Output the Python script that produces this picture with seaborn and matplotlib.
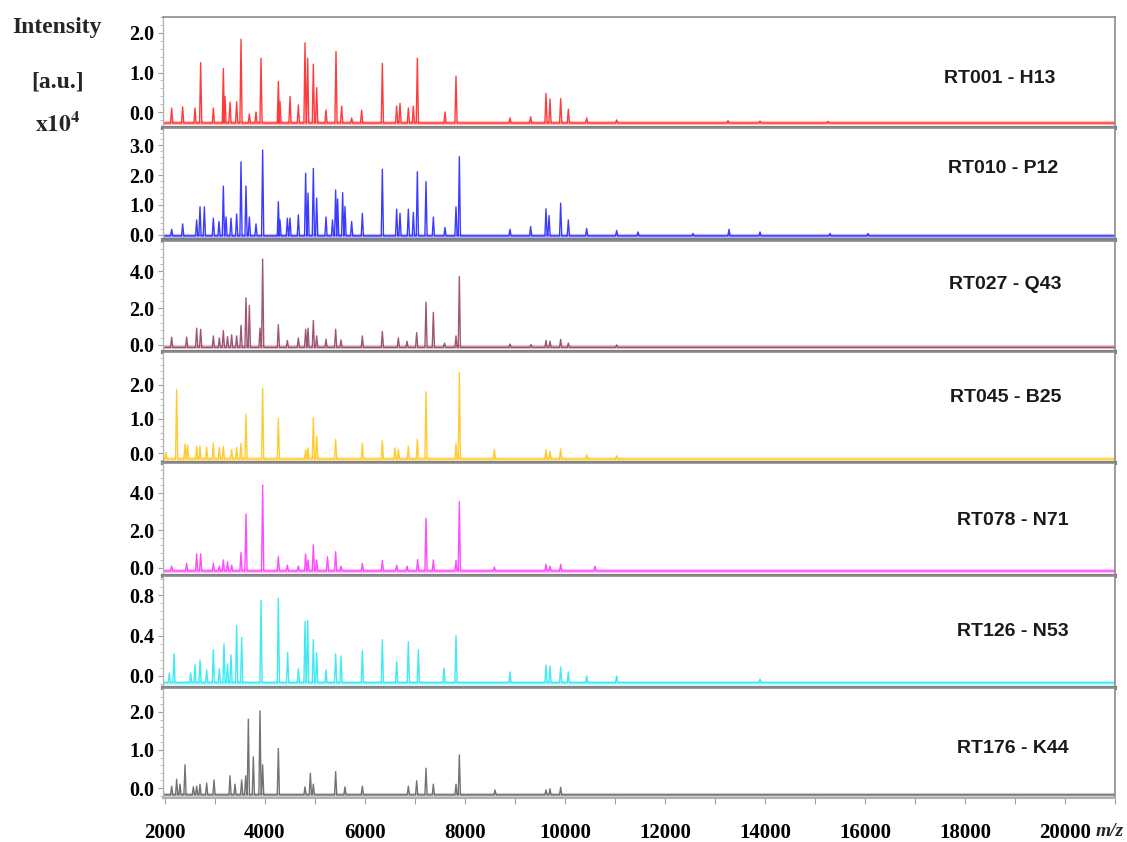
import numpy as np
import pandas as pd
import matplotlib
matplotlib.use("Agg")
import matplotlib.pyplot as plt
import seaborn as sns
from matplotlib.ticker import MultipleLocator, AutoMinorLocator

# ---------------- data (intensity in x10^4 a.u., m/z in Da) ----------------
samples = ["RT001 - H13", "RT010 - P12", "RT027 - Q43", "RT045 - B25",
           "RT078 - N71", "RT126 - N53", "RT176 - K44"]

mz_rt001 = [2133, 2353, 2600, 2713, 2967, 3167, 3200, 3300, 3433, 3520, 3687, 3820,
            3920, 4267, 4300, 4500, 4667, 4800, 4853, 4967, 5033, 5220, 5420, 5533,
            5733, 5933, 6347, 6633, 6700, 6867, 6967, 7047, 7600, 7820, 8900, 9313,
            9620, 9700, 9913, 10067, 10433, 11033, 13260, 13900, 15260]
int_rt001 = [0.10, 0.13, 0.10, 1.25, 0.10, 1.10, 0.39, 0.25, 0.26, 1.84, -0.05, 0.00,
             1.36, 0.77, 0.27, 0.39, 0.18, 1.75, 1.36, 1.21, 0.62, 0.05, 1.53, 0.15,
             -0.15, 0.05, 1.23, 0.15, 0.22, 0.10, 0.15, 1.36, 0.00, 0.91, -0.15, -0.12,
             0.47, 0.33, 0.34, 0.07, -0.15, -0.20, -0.22, -0.23, -0.24]

mz_rt010 = [2133, 2353, 2633, 2700, 2787, 2967, 3080, 3167, 3220, 3320, 3433, 3520,
            3620, 3687, 3820, 3953, 4267, 4300, 4447, 4500, 4667, 4813, 4860, 4967,
            5033, 5220, 5350, 5413, 5453, 5553, 5600, 5733, 5947, 6347, 6633, 6700,
            6867, 6967, 7047, 7220, 7367, 7600, 7820, 7887, 8900, 9313, 9620, 9680,
            9913, 10067, 10433, 11033, 11460, 12560, 13280, 13900, 15300, 16060]
int_rt010 = [0.19, 0.37, 0.50, 0.94, 0.94, 0.56, 0.45, 1.63, 0.60, 0.56, 0.70, 2.44,
             1.63, 0.60, 0.37, 2.83, 1.11, 0.50, 0.56, 0.56, 0.67, 2.06, 1.40, 2.22,
             1.23, 0.60, 0.50, 1.50, 1.20, 1.41, 0.95, 0.45, 0.72, 2.19, 0.86, 0.72,
             0.86, 0.75, 2.11, 1.78, 0.60, 0.25, 0.94, 2.61, 0.19, 0.28, 0.87, 0.65,
             1.06, 0.50, 0.22, 0.15, 0.10, 0.05, 0.19, 0.10, 0.05, 0.05]

mz_rt027 = [2133, 2433, 2633, 2713, 2967, 3087, 3167, 3250, 3333, 3433, 3520, 3620,
            3687, 3900, 3953, 4267, 4447, 4667, 4813, 4860, 4967, 5033, 5220, 5413,
            5520, 5947, 6347, 6667, 6840, 7033, 7220, 7367, 7590, 7820, 7887, 8900,
            9320, 9620, 9700, 9913, 10067, 11033]
int_rt027 = [0.42, 0.42, 0.91, 0.85, 0.49, 0.38, 0.78, 0.45, 0.55, 0.49, 1.06, 2.56,
             2.14, 0.91, 4.66, 1.10, 0.25, 0.38, 0.85, 0.91, 1.33, 0.49, 0.31, 0.85,
             0.27, 0.49, 0.73, 0.38, 0.20, 0.67, 2.32, 1.77, 0.10, 0.49, 3.71, 0.05,
             0.02, 0.25, 0.20, 0.30, 0.10, 0.00]

mz_rt045 = [2020, 2233, 2400, 2450, 2633, 2700, 2833, 2967, 3087, 3167, 3333, 3433,
            3520, 3620, 3953, 4267, 4813, 4860, 4967, 5033, 5413, 5947, 6347, 6600,
            6667, 6867, 7047, 7220, 7820, 7887, 8587, 9620, 9700, 9913, 10433, 11033]
int_rt045 = [0.01, 1.87, 0.26, 0.24, 0.20, 0.20, 0.17, 0.28, 0.17, 0.19, 0.10, 0.17,
             0.28, 1.15, 1.90, 1.02, 0.10, 0.15, 1.04, 0.50, 0.40, 0.28, 0.36, 0.15,
             0.10, 0.20, 0.40, 1.80, 0.28, 2.36, 0.10, 0.10, 0.05, 0.12, -0.05, -0.08]

mz_rt078 = [2133, 2433, 2633, 2713, 2967, 3087, 3167, 3250, 3333, 3520, 3620, 3953,
            4267, 4447, 4667, 4813, 4860, 4967, 5033, 5250, 5413, 5520, 5947, 6347,
            6633, 6840, 7053, 7220, 7367, 7820, 7887, 8587, 9620, 9700, 9913, 10600]
int_rt078 = [0.10, 0.25, 0.75, 0.75, 0.25, 0.10, 0.43, 0.33, 0.15, 0.82, 2.88, 4.43,
             0.60, 0.15, 0.10, 0.75, 0.43, 1.23, 0.43, 0.60, 0.87, 0.10, 0.25, 0.40,
             0.15, 0.10, 0.45, 2.65, 0.43, 0.40, 3.54, 0.05, 0.20, 0.10, 0.20, 0.10]

mz_rt126 = [2087, 2180, 2513, 2600, 2700, 2833, 2967, 3087, 3180, 3250, 3320, 3433,
            3533, 3920, 4267, 4453, 4667, 4800, 4853, 4967, 5033, 5220, 5413, 5520,
            5947, 6347, 6633, 6867, 7067, 7580, 7820, 8900, 9620, 9700, 9913, 10067,
            10433, 11033, 13900]
int_rt126 = [0.03, 0.22, 0.03, 0.11, 0.16, 0.06, 0.26, 0.07, 0.32, 0.12, 0.21, 0.50,
             0.38, 0.75, 0.77, 0.23, 0.07, 0.54, 0.55, 0.36, 0.23, 0.06, 0.22, 0.20,
             0.25, 0.36, 0.14, 0.34, 0.26, 0.08, 0.40, 0.04, 0.11, 0.10, 0.09, 0.04,
             0.00, 0.00, -0.03]

mz_rt176 = [2133, 2233, 2300, 2400, 2567, 2633, 2700, 2833, 2980, 3300, 3400, 3533,
            3613, 3667, 3767, 3900, 3953, 4267, 4800, 4907, 4967, 5413, 5600, 5947,
            6867, 7033, 7220, 7367, 7820, 7887, 8600, 9620, 9700, 9913]
int_rt176 = [0.05, 0.23, 0.10, 0.61, 0.03, 0.05, 0.10, 0.13, 0.21, 0.32, 0.10, 0.21,
             0.32, 1.81, 0.82, 2.03, 0.61, 1.04, 0.03, 0.39, 0.10, 0.43, 0.03, 0.05,
             0.05, 0.19, 0.52, 0.10, 0.10, 0.87, -0.05, -0.05, -0.02, 0.02]

baselines = [-0.28, -0.03, -0.13, -0.18, -0.16, -0.066, -0.18]

yticks_rt001 = [0.0, 1.0, 2.0]
yticks_rt010 = [0.0, 1.0, 2.0, 3.0]
yticks_rt027 = [0.0, 2.0, 4.0]
yticks_rt045 = [0.0, 1.0, 2.0]
yticks_rt078 = [0.0, 2.0, 4.0]
yticks_rt126 = [0.0, 0.4, 0.8]
yticks_rt176 = [0.0, 1.0, 2.0]

xtick_values = [2000, 4000, 6000, 8000, 10000, 12000, 14000, 16000, 18000, 20000]

mz_lists = [mz_rt001, mz_rt010, mz_rt027, mz_rt045, mz_rt078, mz_rt126, mz_rt176]
int_lists = [int_rt001, int_rt010, int_rt027, int_rt045, int_rt078, int_rt126, int_rt176]
ytick_lists = [yticks_rt001, yticks_rt010, yticks_rt027, yticks_rt045,
               yticks_rt078, yticks_rt126, yticks_rt176]

# ---------------- style / layout ----------------
colors = ["#ff1a1a", "#1a1aff", "#8c3a5c", "#ffc20e", "#ff2cff", "#1fe6f2", "#5a5a5a"]
XMIN, XMAX = 1960, 21000
ylims = [(-0.405, 2.405), (-0.167, 3.567), (-0.384, 5.644), (-0.294, 2.97),
         (-0.427, 5.6), (-0.119, 0.99), (-0.263, 2.63)]
panel_px = [(17, 128), (128, 240), (241, 352), (352, 463), (463, 576), (576, 688), (688, 798)]
label_pos = [(0.937, 0.45), (0.940, 0.64), (0.944, 0.61), (0.944, 0.59),
             (0.951, 0.49), (0.951, 0.50), (0.951, 0.45)]

sns.set_theme(style="white")
plt.rcParams["font.family"] = ["Liberation Serif", "DejaVu Serif"]
plt.rcParams["mathtext.fontset"] = "stix"

W, H = 1127, 842
fig = plt.figure(figsize=(W / 100, H / 100), dpi=100)
left_px, right_px = 163, 1115


def spectrum_frame(mz, inten, base, hw=22.0):
    xs, ys = [XMIN], [base]
    for m, h in sorted(zip(mz, inten)):
        xs += [m - hw, m, m + hw]
        ys += [base, h, base]
    xs.append(XMAX)
    ys.append(base)
    return pd.DataFrame({"mz": xs, "intensity": ys})


axes = []
for i in range(7):
    top, bot = panel_px[i]
    ax = fig.add_axes([left_px / W, 1 - bot / H, (right_px - left_px) / W, (bot - top) / H])
    axes.append(ax)
    df = spectrum_frame(mz_lists[i], int_lists[i], baselines[i])
    ax.axhline(baselines[i], color=colors[i], alpha=0.3, lw=3, zorder=1)
    sns.lineplot(data=df, x="mz", y="intensity", ax=ax, color=colors[i],
                 lw=1.0, alpha=0.85, estimator=None, sort=False, zorder=2)
    ax.set_xlim(XMIN, XMAX)
    ax.set_ylim(*ylims[i])
    ax.set_xlabel("")
    ax.set_ylabel("")
    ax.set_yticks(ytick_lists[i])
    ax.set_yticklabels([f"{t:.1f}" for t in ytick_lists[i]], fontsize=14.5,
                       fontweight="bold", color="black")
    ax.yaxis.set_minor_locator(AutoMinorLocator(5))
    ax.tick_params(axis="y", which="major", left=True, length=3.5, width=0.8,
                   color="#a0a0a0", pad=2.5)
    ax.tick_params(axis="y", which="minor", left=True, length=2, width=0.6,
                   color="#b0b0b0")
    for s in ["top", "right"]:
        ax.spines[s].set_color("#8c8c8c")
        ax.spines[s].set_linewidth(1.2)
    ax.spines["left"].set_color("#b5b5b5")
    ax.spines["left"].set_linewidth(1.0)
    if i < 6:
        ax.spines["bottom"].set_color("#808080")
        ax.spines["bottom"].set_linewidth(3)
        ax.tick_params(axis="x", bottom=False, labelbottom=False)
    else:
        ax.spines["bottom"].set_color("#b0b0b0")
        ax.spines["bottom"].set_linewidth(1.5)
        ax.set_xticks(xtick_values)
        ax.set_xticklabels([str(v) for v in xtick_values], fontsize=15,
                           fontweight="bold", color="black")
        ax.xaxis.set_minor_locator(MultipleLocator(1000))
        ax.tick_params(axis="x", which="both", bottom=True, length=4.5, width=0.8,
                       color="#a0a0a0", pad=13.5)
    lx, ly = label_pos[i]
    ax.text(lx, ly, samples[i], transform=ax.transAxes, ha="right", va="center",
            fontsize=14, fontweight="bold", color="#1a1a1a",
            family=["Liberation Sans", "DejaVu Sans"])
    ax.set_facecolor("white")

fig.text(57 / W, 1 - 27 / H, "Intensity", ha="center", va="center",
         fontsize=17, fontweight="bold")
fig.text(58 / W, 1 - 82 / H, "[a.u.]", ha="center", va="center",
         fontsize=17, fontweight="bold")
fig.text(58 / W, 1 - 124 / H, r"$\mathbf{x10^{4}}$", ha="center", va="center",
         fontsize=17)
fig.text(1110 / W, 1 - 831 / H, "m/z", ha="center", va="center",
         fontsize=14, fontweight="bold", style="italic")

fig.savefig("out.png", dpi=100, facecolor="white")
